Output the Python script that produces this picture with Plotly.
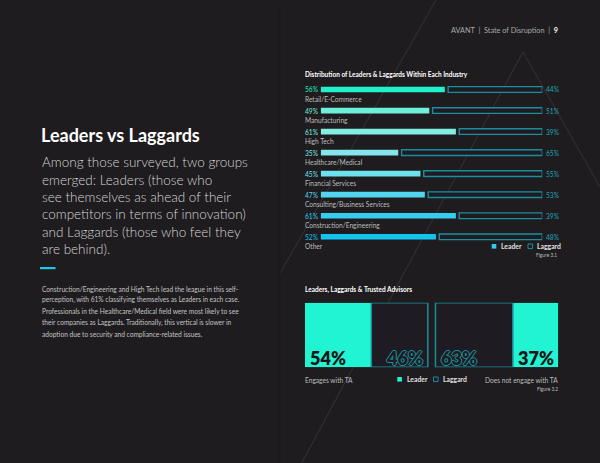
import plotly.graph_objects as go

W, H = 600, 463
BG = "#1e1c1e"
FONT = "Lato"
TEAL = "#1b8e9e"
LAG_FILL = "#1f1b22"

# ---------------- data ----------------
industries = ["Retail/E-Commerce", "Manufacturing", "High Tech", "Healthcare/Medical",
              "Financial Services", "Consulting/Business Services",
              "Construction/Engineering", "Other"]
leaders = [56, 49, 61, 35, 45, 47, 61, 52]
laggards = [44, 51, 39, 65, 55, 53, 39, 48]
leader_colors = ["#22efcb", "#6cf0dc", "#80efe2", "#84e6ec", "#6ee0ee",
                 "#52d6f0", "#34cdf0", "#12c3ee"]

ta_groups = ["Engages with TA", "Does not engage with TA"]
ta_leader = [54, 37]
ta_laggard = [46, 63]

page_title = "Leaders vs Laggards"
intro_lines = ["Among those surveyed, two groups",
               "emerged: Leaders (those who",
               "see themselves as ahead of their",
               "competitors in terms of innovation)",
               "and Laggards (those who feel they",
               "are behind)."]
body_lines = ["Construction/Engineering and High Tech lead the league in this self-",
              "perception, with 61% classifying themselves as Leaders in each case.",
              "Professionals in the Healthcare/Medical field were most likely to see",
              "their companies as Laggards. Traditionally, this vertical is slower in",
              "adoption due to security and compliance-related issues."]


def px(x):
    return x / W


def py(y):
    return 1 - y / H


fig = go.Figure()

# ---------------- chart 1: industries ----------------
GAP1 = 1.5
rows = list(range(len(industries)))
fig.add_trace(go.Bar(
    x=leaders, y=rows, base=[0] * len(rows), orientation="h", width=0.27,
    marker=dict(color=leader_colors, line=dict(width=0)),
    xaxis="x", yaxis="y", showlegend=False, hoverinfo="skip"))
fig.add_trace(go.Bar(
    x=[g - GAP1 for g in laggards], y=rows, base=[l + GAP1 for l in leaders],
    orientation="h", width=0.27,
    marker=dict(color=LAG_FILL, line=dict(color=TEAL, width=1.4)),
    xaxis="x", yaxis="y", showlegend=False, hoverinfo="skip"))

# ---------------- chart 2: trusted advisors ----------------
GAP2 = 6.2
lead_base = [0, 100 + GAP2 + ta_laggard[1]]
lag_base = [ta_leader[0], 100 + GAP2]
fig.add_trace(go.Bar(
    x=ta_leader, y=[0, 0], base=lead_base, orientation="h", width=1,
    marker=dict(color="#20f4d2", line=dict(width=0)),
    xaxis="x2", yaxis="y2", showlegend=False, hoverinfo="skip"))
fig.add_trace(go.Bar(
    x=ta_laggard, y=[0, 0], base=lag_base, orientation="h", width=1,
    marker=dict(color=LAG_FILL, line=dict(color=TEAL, width=1.5)),
    xaxis="x2", yaxis="y2", showlegend=False, hoverinfo="skip"))

ax_off = dict(visible=False, showgrid=False, zeroline=False, fixedrange=True)
fig.update_layout(
    width=W, height=H, margin=dict(l=0, r=0, t=0, b=0),
    paper_bgcolor=BG, plot_bgcolor="rgba(0,0,0,0)", barmode="overlay",
    showlegend=False,
    xaxis=dict(domain=[px(320.7), px(542.3)], range=[0, 100], **ax_off),
    yaxis=dict(domain=[py(89.5 + 7.5 * 21.04), py(89.5 - 0.5 * 21.04)],
               range=[7.5, -0.5], **ax_off),
    xaxis2=dict(domain=[px(305), px(558.3)], range=[0, 200 + GAP2], **ax_off),
    yaxis2=dict(domain=[py(367.3), py(302.7)], range=[-0.5, 0.5], **ax_off),
)

shapes = []
# decorative lines
for (x0, y0, x1, y1) in [(436, 0, 278, 277), (523, 52, 301.7, 463), (523, 52, 600, 187)]:
    shapes.append(dict(type="line", xref="paper", yref="paper", x0=px(x0), y0=py(y0),
                       x1=px(x1), y1=py(y1), line=dict(color="#363436", width=1), layer="below"))
# gutter
shapes.append(dict(type="rect", xref="paper", yref="paper", x0=px(277.5), x1=px(280.5),
                   y0=py(463), y1=py(8), fillcolor="#1a181a", line=dict(width=0), layer="below"))
# accent dash
shapes.append(dict(type="rect", xref="paper", yref="paper", x0=px(40), x1=px(55.5),
                   y0=py(269.2), y1=py(267), fillcolor="#1fc6e6", line=dict(width=0)))


def sq(x, y, filled, color, s=4.6):
    shapes.append(dict(type="rect", xref="paper", yref="paper",
                       x0=px(x), x1=px(x + s), y0=py(y + s / 2), y1=py(y - s / 2),
                       fillcolor=color if filled else "rgba(0,0,0,0)",
                       line=dict(color=color, width=0 if filled else 1)))


sq(491.7, 246.3, True, "#34c9ea")
sq(528, 246.3, False, TEAL)
sq(397.3, 379.3, True, "#20f4d2")
sq(433.5, 379.3, False, TEAL)

ann = []


def txt(x, y, s, size, color, anchor="left", weight=400, shadow=None):
    f = dict(family=FONT, size=size, color=color, weight=weight)
    if shadow:
        f["shadow"] = shadow
    ann.append(dict(x=px(x), y=py(y), xref="paper", yref="paper",
                    text=s, showarrow=False, xanchor=anchor, yanchor="middle",
                    font=f, borderpad=0))


# header
txt(558.5, 30.7, "AVANT&nbsp; |&nbsp; State of Disruption&nbsp; |&nbsp; <b style='color:#ffffff'>9</b>",
    7.3, "#a9a9a9", anchor="right")

# left page
txt(40, 134.5, page_title, 18, "#ffffff", weight=700)
for i, line in enumerate(intro_lines):
    txt(40.5, 162.3 + 17.3 * i, line, 13.5, "#d6d6d6", weight=300)
for i, line in enumerate(body_lines):
    txt(40.5, 288.6 + 11.25 * i, line, 6.6, "#c4c4c4")

# chart 1 text
txt(304.5, 75, "Distribution of Leaders & Laggards Within Each Industry", 6.5, "#ffffff", weight=700)
for i, name in enumerate(industries):
    yc = 89.5 + 21.04 * i
    txt(304, yc, f"{leaders[i]}%", 6.6, leader_colors[i])
    txt(544.5, yc, f"{laggards[i]}%", 6.6, "#1fa6b8")
    txt(304.5, yc + 9.7, name, 6.6, "#bdbdbd")
txt(499.5, 246.3, "Leader", 6.8, "#e0e0e0", weight=700)
txt(536, 246.3, "Laggard", 6.8, "#e0e0e0", weight=700)
txt(557.5, 255.2, "Figure 3.1", 4.8, "#bdbdbd", anchor="right")

# chart 2 text
txt(304.5, 290, "Leaders, Laggards & Trusted Advisors", 6.5, "#ffffff", weight=700)
OUT = ("1px 0 0 %s, -1px 0 0 %s, 0 1px 0 %s, 0 -1px 0 %s" % ((TEAL,) * 4))
yv = 357.5
ann_specs = [
    (lead_base[0], f"{ta_leader[0]}%", "left", 3.5, "#161416", None),
    (lag_base[0] + ta_laggard[0], f"{ta_laggard[0]}%", "right", -3.5, BG, OUT),
    (lag_base[1], f"{ta_laggard[1]}%", "left", 4.5, BG, OUT),
    (lead_base[1], f"{ta_leader[1]}%", "left", 4, "#161416", None),
]
for xv, s, anc, sh, col, shadow in ann_specs:
    ann.append(dict(x=xv, y=py(yv), xref="x2", yref="paper", text=s, showarrow=False,
                    xanchor=anc, yanchor="middle", xshift=sh, borderpad=0,
                    font=dict(family=FONT, size=18, color=col, weight=800,
                              **({"shadow": shadow} if shadow else {}))))
txt(304.5, 380, ta_groups[0], 6.6, "#bdbdbd")
txt(559, 380, ta_groups[1], 6.6, "#bdbdbd", anchor="right")
txt(405.5, 379.3, "Leader", 6.8, "#e0e0e0", weight=700)
txt(441.8, 379.3, "Laggard", 6.8, "#e0e0e0", weight=700)
txt(559, 388.5, "Figure 3.2", 4.8, "#bdbdbd", anchor="right")

fig.update_layout(shapes=shapes, annotations=ann)
fig.write_html("out.html")
